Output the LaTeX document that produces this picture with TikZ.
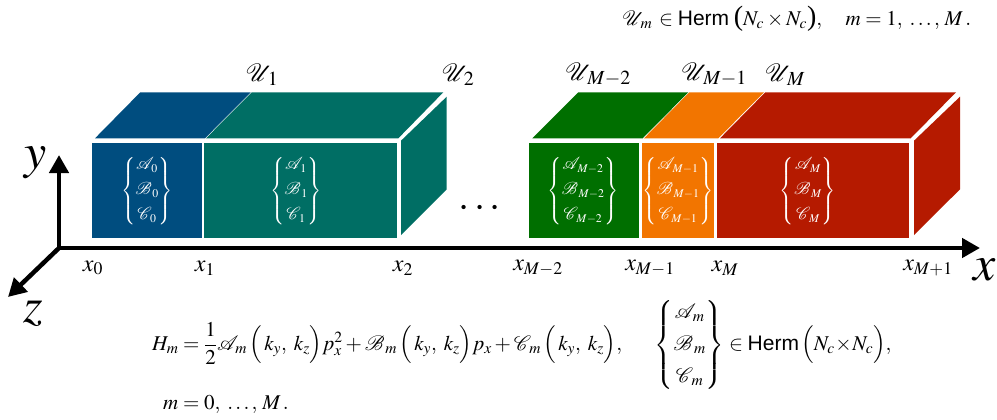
\documentclass[tikz,border=0pt]{standalone}
\usepackage{amsmath}
\usepackage{mathptmx}
\usepackage{mathrsfs}
\usepackage{fontspec}
\setmainfont{Liberation Serif}
\setsansfont{Liberation Sans}
\usepackage{xcolor}
\usetikzlibrary{arrows.meta}
\definecolor{BlockBlue}{RGB}{0,77,127}
\definecolor{BlockTeal}{RGB}{0,110,100}
\definecolor{BlockGreen}{RGB}{0,111,0}
\definecolor{BlockOrange}{RGB}{242,117,0}
\definecolor{BlockRed}{RGB}{181,26,0}
\newcommand{\herm}{\textsf{Herm}}
\newcommand{\kpair}{\,\Big(\mkern2mu k_y,\;k_z\Big)}
\newcommand{\ncpair}[2]{\mbox{\fontsize{#1}{#1}\selectfont(}#2\mbox{\fontsize{#1}{#1}\selectfont)}}
\newcommand{\blocklabel}[1]{$\left\{\begin{matrix}\mathscr{A}_{\,#1}\\[6pt]\mathscr{B}_{\,#1}\\[6pt]\mathscr{C}_{\,#1}\end{matrix}\right\}$}
\tikzset{
	axis/.style={line width=4.5pt, -{Triangle[width=19pt,length=18pt]}},
	blocktext/.style={text=white, font=\fontsize{16}{19}\selectfont, inner sep=0pt},
	ulabel/.style={font=\fontsize{27}{30}\selectfont, inner sep=0pt},
	xlabel/.style={font=\fontsize{24}{26}\selectfont, inner sep=0pt},
	axislabel/.style={font=\fontsize{50}{52}\selectfont, inner sep=0pt},
	eqtext/.style={font=\fontsize{21}{25}\selectfont, inner sep=0pt, anchor=west}
}
\begin{document}
\begin{tikzpicture}[x=1pt, y=-1pt]
	\useasboundingbox (0,0) rectangle (997,420);

	% 左侧块 x0 -- x1
	\fill[BlockBlue] (91.7,143.3) rectangle (202,238.3);
	\fill[BlockBlue] (95,138.3) -- (140.3,92.3) -- (250.7,92.3) -- (205,138.3) -- cycle;

	% 左侧块 x1 -- x2
	\fill[BlockTeal] (203.7,143.3) rectangle (396.7,238.3);
	\fill[BlockTeal] (206,138.3) -- (251.7,92.3) -- (443.3,92.3) -- (398.3,138.3) -- cycle;
	\fill[BlockTeal] (401,140.7) -- (446.7,96.7) -- (446.7,189.3) -- (401,235) -- cycle;

	% 右侧块 x_{M-2} -- x_{M-1}
	\fill[BlockGreen] (529,143.3) rectangle (639,238.3);
	\fill[BlockGreen] (532.3,138.3) -- (578.3,92.3) -- (688.3,92.3) -- (642.7,138.3) -- cycle;

	% 右侧块 x_{M-1} -- x_M
	\fill[BlockOrange] (641.7,143.3) rectangle (714.3,238.3);
	\fill[BlockOrange] (644,138.3) -- (689.3,92.3) -- (764,92.3) -- (718.3,138.3) -- cycle;

	% 右侧块 x_M -- x_{M+1}
	\fill[BlockRed] (717,143.3) rectangle (909.3,238.3);
	\fill[BlockRed] (720,138.3) -- (765.3,92.3) -- (956,92.3) -- (910.7,138.3) -- cycle;
	\fill[BlockRed] (914,140.7) -- (960,96.7) -- (960,189.3) -- (914,235) -- cycle;

	% 块内参数
	\node[blocktext] (blockA) at (147,191) {\blocklabel{0}};
	\node[blocktext] (blockB) at (296,191) {\blocklabel{1}};
	\node[blocktext] (blockC) at (583,191) {\blocklabel{M-2}};
	\node[blocktext] (blockD) at (678,191) {\blocklabel{M-1}};
	\node[blocktext] (blockE) at (808,191) {\blocklabel{M}};

	% 省略号
	\node[font=\fontsize{40}{40}\selectfont, inner sep=0pt] (dots) at (482,209) {$\cdots$};

	% 坐标轴
	\coordinate (O) at (59,248);
	\coordinate (xend) at (980,248);
	\coordinate (yend) at (59,155);
	\coordinate (zend) at (8,297);
	\draw[axis] (O) -- (xend);
	\draw[axis] (O) -- (yend);
	\draw[axis] (O) -- (zend);
	\node[axislabel] (xname) at (985,270) {$x$};
	\node[axislabel] (yname) at (36,163) {$y$};
	\node[axislabel] (zname) at (33,314) {$z$};

	% 分界点
	\node[xlabel] (x0) at (93,268) {$x_0$};
	\node[xlabel] (x1) at (205,268) {$x_1$};
	\node[xlabel] (x2) at (403,268) {$x_2$};
	\node[xlabel] (xa) at (538,268) {$x_{M-2}$};
	\node[xlabel] (xb) at (650,268) {$x_{M-1}$};
	\node[xlabel] (xc) at (725,268) {$x_M$};
	\node[xlabel] (xd) at (928,268) {$x_{M+1}$};

	% 块上方标记
	\node[ulabel] (u1) at (262,75) {$\mathscr{U}_{\,1}$};
	\node[ulabel] (u2) at (458,75) {$\mathscr{U}_{\,2}$};
	\node[ulabel] (ua) at (598,75) {$\mathscr{U}_{\,M-2}$};
	\node[ulabel] (ub) at (714,75) {$\mathscr{U}_{\,M-1}$};
	\node[ulabel] (uc) at (785,75) {$\mathscr{U}_{\,M}$};

	% 公式
	\node[eqtext] (equ) at (622,19) {$\mathscr{U}_{\,m}\,\in\herm\;\ncpair{28}{N_c\times N_c},\quad m=1,\;\ldots,\,M\,.$};
	\node[eqtext] (eqh) at (152,345) {$H_m=\dfrac{1}{2}\mathscr{A}_{\,m}\kpair p_x^2+\mathscr{B}_{\,m}\kpair p_x+\mathscr{C}_{\,m}\kpair,\quad\;\;\left\{\begin{matrix}\mathscr{A}_{\,m}\\[7pt]\mathscr{B}_{\,m}\\[7pt]\mathscr{C}_{\,m}\end{matrix}\right\}\in\herm\,\Big(N_c\!\times\!N_c\Big),$};
	\node[eqtext] (eqm) at (163,405) {$m=0,\;\ldots,\,M\,.$};
\end{tikzpicture}
\end{document}
